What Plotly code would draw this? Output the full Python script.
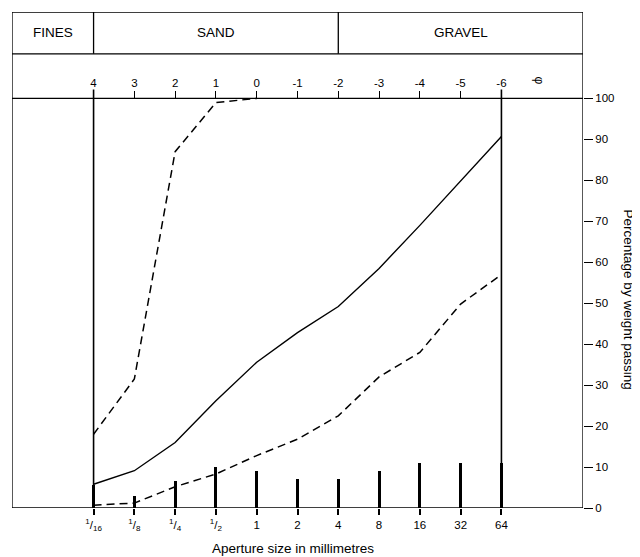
import numpy as np
import plotly.graph_objects as go

# ---- data ----
size_mm = [1/16, 1/8, 1/4, 1/2, 1, 2, 4, 8, 16, 32, 64]
size_labels = ["<sup>1</sup>/<sub>16</sub>", "<sup>1</sup>/<sub>8</sub>", "<sup>1</sup>/<sub>4</sub>",
               "<sup>1</sup>/<sub>2</sub>", "1", "2", "4", "8", "16", "32", "64"]
phi_labels = ["4", "3", "2", "1", "0", "-1", "-2", "-3", "-4", "-5", "-6"]
retained = [5.6, 2.9, 6.6, 10.1, 9.0, 7.0, 7.0, 9.0, 11.1, 11.1, 11.0]
passing_mid = [5.8, 9.1, 16.0, 26.2, 35.6, 42.8, 49.2, 58.5, 69.0, 79.8, 90.7]
upper_sizes = [1/16, 1/8, 1/4, 1/2, 1]
passing_upper = [18.0, 31.5, 87.0, 99.0, 100.0]
passing_lower = [0.7, 1.2, 5.2, 8.3, 12.8, 16.8, 22.5, 32.0, 38.0, 49.8, 57.0]
classes = ["FINES", "SAND", "GRAVEL"]
class_bounds_mm = [None, 1/16, 4, None]

x = np.log2(size_mm)
xu = np.log2(upper_sizes)
XMIN, XMAX = -6.0, 8.0
YTOP = 121.1
HDR = 110.9

font = "Liberation Sans, Arial, sans-serif"
fig = go.Figure()

fig.add_trace(go.Bar(x=x, y=retained, width=0.075, marker=dict(color="black", line_width=0),
                     showlegend=False, hoverinfo="skip"))
fig.add_trace(go.Scatter(x=x, y=passing_mid, mode="lines", line=dict(color="black", width=1.4),
                         showlegend=False))
fig.add_trace(go.Scatter(x=xu, y=passing_upper, mode="lines",
                         line=dict(color="black", width=1.5, dash="8px,5px"), showlegend=False))
fig.add_trace(go.Scatter(x=x, y=passing_lower, mode="lines",
                         line=dict(color="black", width=1.5, dash="8px,5px"), showlegend=False))
# dummy trace on top axis
fig.add_trace(go.Scatter(x=[x[0]], y=[100], xaxis="x2", mode="markers",
                         marker=dict(opacity=0), showlegend=False, hoverinfo="skip"))

shapes = []
L = dict(color="black", width=1.3)
# outer frame
shapes.append(dict(type="rect", xref="x", yref="y", x0=XMIN, x1=XMAX, y0=0, y1=YTOP, line=L))
# header lines
shapes.append(dict(type="line", xref="x", yref="y", x0=XMIN, x1=XMAX, y0=HDR, y1=HDR, line=L))
shapes.append(dict(type="line", xref="x", yref="y", x0=XMIN, x1=XMAX, y0=100, y1=100, line=L))
# class dividers
for b in class_bounds_mm[1:-1]:
    shapes.append(dict(type="line", xref="x", yref="y", x0=np.log2(b), x1=np.log2(b), y0=HDR, y1=YTOP, line=L))
# vertical lines at 1/16 and 64 mm
for xv in (x[0], x[-1]):
    shapes.append(dict(type="line", xref="x", yref="y", x0=xv, x1=xv, y0=0, y1=102.2,
                       line=dict(color="black", width=1.6)))

annotations = []
bnds = [XMIN, np.log2(1/16), np.log2(4), XMAX]
for i, c in enumerate(classes):
    annotations.append(dict(x=(bnds[i] + bnds[i+1]) / 2, y=116.0, xref="x", yref="y", text=c,
                            xanchor="center", yanchor="middle", showarrow=False,
                            font=dict(family=font, size=13.5, color="black")))
annotations.append(dict(x=6.93, y=104.3, xref="x", yref="y", text="φ", textangle=90, showarrow=False,
                        xanchor="center", yanchor="middle",
                        font=dict(family=font, size=12, color="black")))
annotations.append(dict(x=0.89, y=-0.081, xref="x", yref="paper", text="Aperture size in millimetres",
                        xanchor="center", yanchor="middle", showarrow=False,
                        font=dict(family=font, size=13.5, color="black")))
annotations.append(dict(x=1.079, y=0.42, xref="paper", yref="paper",
                        text="Percentage by weight passing", textangle=90, showarrow=False,
                        xanchor="center", yanchor="middle",
                        font=dict(family=font, size=13.5, color="black")))

fig.update_layout(
    width=640, height=557,
    margin=dict(l=4, r=65, t=4, b=57),
    paper_bgcolor="white", plot_bgcolor="white",
    font=dict(family=font, size=11.5, color="black"),
    bargap=0,
    shapes=shapes, annotations=annotations,
    xaxis=dict(range=[XMIN, XMAX], tickvals=x, ticktext=size_labels, ticks="outside",
               ticklen=6, tickwidth=2, tickcolor="black", showgrid=False, zeroline=False,
               showline=False, tickfont=dict(family=font, size=11.5)),
    xaxis2=dict(range=[XMIN, XMAX], overlaying="x", anchor="free", position=100/YTOP, side="top",
                tickvals=x, ticktext=phi_labels, ticks="outside", ticklen=7, tickwidth=1.3,
                tickcolor="black", showgrid=False, zeroline=False, showline=False,
                tickfont=dict(family=font, size=11.5)),
    yaxis=dict(range=[0, YTOP], side="right", tickvals=list(range(0, 101, 10)), ticks="outside",
               ticklen=9, tickwidth=1.3, tickcolor="black", showgrid=False, zeroline=False,
               showline=False, tickfont=dict(family=font, size=11.5)),
)

fig.write_html("out.html")
